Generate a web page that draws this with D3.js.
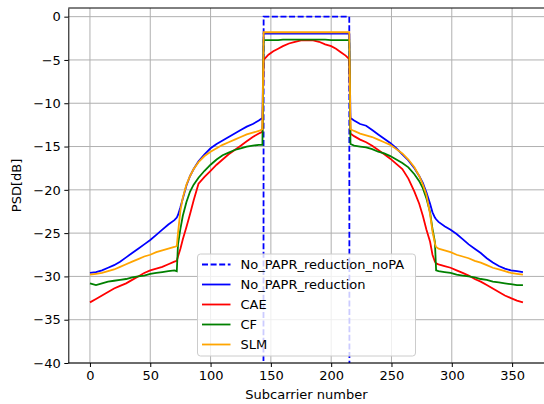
<!DOCTYPE html>
<html>
<head>
<meta charset="utf-8">
<script src="https://cdn.jsdelivr.net/npm/d3@7"></script>
<style>
  body { margin: 0; background: #fff; }
  text { font-family: "DejaVu Sans", sans-serif; }
</style>
</head>
<body>
<div id="chart"></div>
<script>
var w = 544;
var h = 404;
var margin = {left: 68.3, right: 0, top: 8, bottom: 41};
var fontSize = "13px";

// subcarrier sample points (shared by the measured curves)
var carriers = [0, 5, 10, 15, 20, 25, 30, 35, 40, 45, 50, 55, 60, 65, 70, 72, 73, 75, 77, 80, 83, 86, 90, 95,
  100, 105, 110, 115, 120, 125, 130, 135, 140, 143,
  144, 148, 152, 156, 160, 165, 170, 175, 180, 185, 190, 195, 200, 204, 208, 212, 215,
  216, 219, 224, 229, 234, 239, 244, 249, 254, 259, 264, 269, 273, 276, 279, 282, 284, 286, 287,
  289, 294, 299, 304, 309, 314, 319, 324, 329, 334, 339, 344, 349, 354, 359];

var noPAPR = [-29.6, -29.5, -29.3, -29.0, -28.7, -28.3, -27.8, -27.3, -26.8, -26.3, -25.8, -25.2, -24.6, -24.0, -23.5, -23.2, -22.9, -22.0, -21.0, -19.5, -18.4, -17.6, -16.7, -15.9,
  -15.2, -14.7, -14.3, -13.9, -13.5, -13.1, -12.7, -12.4, -12.0, -11.7,
  -1.95, -1.95, -1.95, -1.95, -1.95, -1.95, -1.95, -1.95, -1.95, -1.95, -1.95, -1.95, -1.95, -1.95, -1.95, -1.95, -1.95,
  -11.7, -12.0, -12.4, -12.6, -13.1, -13.6, -14.1, -14.6, -15.2, -15.9, -16.6, -17.5, -18.4, -19.2, -20.3, -21.6, -22.6, -23.2, -23.4,
  -23.7, -24.2, -24.6, -25.1, -25.7, -26.3, -26.8, -27.3, -27.9, -28.4, -28.8, -29.1, -29.3, -29.4, -29.5];

var cae = [-33.0, -32.6, -32.2, -31.8, -31.4, -31.1, -30.8, -30.4, -30.0, -29.6, -29.3, -29.1, -28.9, -28.6, -28.3, -28.2, -27.7, -26.8, -25.7, -24.3, -22.8, -21.2, -19.3, -18.5,
  -17.8, -17.1, -16.5, -15.9, -15.4, -14.9, -14.4, -13.9, -13.5, -13.3,
  -5.0, -4.4, -4.0, -3.7, -3.4, -3.1, -2.9, -2.75, -2.7, -2.75, -2.9, -3.2, -3.4, -3.7, -4.1, -4.5, -4.9,
  -13.5, -13.8, -14.2, -14.5, -14.9, -15.4, -15.9, -16.4, -17.0, -17.6, -18.7, -20.2, -21.6, -23.0, -24.6, -26.0, -27.5, -28.3, -28.5,
  -28.6, -28.8, -29.0, -29.3, -29.6, -29.9, -30.3, -30.6, -31.0, -31.4, -31.8, -32.2, -32.5, -32.8, -33.0];

var cf = [-30.8, -31.0, -30.8, -30.6, -30.5, -30.4, -30.3, -30.1, -30.0, -29.9, -29.7, -29.6, -29.5, -29.4, -29.3, -29.4, -26.3, -24.5, -23.0, -21.4, -20.2, -19.4, -18.6, -17.8,
  -17.1, -16.5, -16.0, -15.7, -15.4, -15.2, -15.0, -14.9, -14.8, -14.8,
  -2.7, -2.7, -2.7, -2.7, -2.65, -2.65, -2.65, -2.65, -2.65, -2.65, -2.65, -2.65, -2.7, -2.7, -2.7, -2.7, -2.7,
  -14.7, -14.9, -15.0, -15.1, -15.3, -15.6, -15.8, -16.1, -16.5, -16.9, -17.4, -18.2, -19.0, -19.8, -21.0, -22.6, -24.5, -26.0, -29.3,
  -29.4, -29.5, -29.6, -29.8, -29.9, -30.0, -30.1, -30.3, -30.4, -30.6, -30.7, -30.8, -30.9, -31.0, -31.0];

var slm = [-29.8, -29.7, -29.6, -29.4, -29.2, -28.9, -28.6, -28.3, -28.0, -27.7, -27.5, -27.2, -27.0, -26.8, -26.6, -26.5, -25.0, -22.4, -20.9, -19.4, -18.4, -17.6, -16.8, -16.1,
  -15.6, -15.2, -14.8, -14.5, -14.2, -13.9, -13.6, -13.4, -13.2, -13.0,
  -1.8, -1.8, -1.8, -1.8, -1.8, -1.8, -1.8, -1.8, -1.8, -1.8, -1.8, -1.8, -1.8, -1.8, -1.8, -1.8, -1.8,
  -13.0, -13.2, -13.5, -13.7, -13.9, -14.2, -14.5, -14.8, -15.3, -15.8, -16.5, -17.4, -18.4, -19.4, -20.6, -22.8, -24.8, -26.2, -26.6,
  -26.8, -27.0, -27.2, -27.5, -27.7, -27.9, -28.2, -28.4, -28.7, -29.0, -29.2, -29.4, -29.6, -29.7, -29.8];

// ideal PSD without PA: 0 dB in band, nothing outside
var noPACarriers = [143, 144, 215, 216];
var noPA = [-300, 0, 0, -300];

var xTicks = [0, 50, 100, 150, 200, 250, 300, 350];
var yTicks = [0, -5, -10, -15, -20, -25, -30, -35, -40];

var series = [
  {name: "No_PAPR_reduction_noPA", x: noPACarriers, y: noPA, color: "blue", dash: "6,2.6"},
  {name: "No_PAPR_reduction", x: carriers, y: noPAPR, color: "blue"},
  {name: "CAE", x: carriers, y: cae, color: "red"},
  {name: "CF", x: carriers, y: cf, color: "green"},
  {name: "SLM", x: carriers, y: slm, color: "orange"}
];

var xScale = d3.scaleLinear()
               .domain([-17.95, 376.95])
               .range([margin.left, 544.6]);

var yScale = d3.scaleLinear()
               .domain([-40, 1])
               .range([h - margin.bottom, margin.top]);

var svg = d3.select("#chart")
            .append("svg")
            .attr("width", w)
            .attr("height", h);

svg.append("clipPath")
   .attr("id", "plot-area")
   .append("rect")
   .attr("x", margin.left)
   .attr("y", margin.top)
   .attr("width", 544.6 - margin.left)
   .attr("height", h - margin.bottom - margin.top);

// grid
var grid = svg.append("g").attr("class", "grid");
grid.selectAll("line.gx")
    .data(xTicks)
    .enter()
    .append("line")
    .attr("x1", function(d) { return xScale(d); })
    .attr("x2", function(d) { return xScale(d); })
    .attr("y1", margin.top)
    .attr("y2", h - margin.bottom)
    .attr("stroke", "#b0b0b0")
    .attr("stroke-width", 1);
grid.selectAll("line.gy")
    .data(yTicks)
    .enter()
    .append("line")
    .attr("x1", margin.left)
    .attr("x2", w)
    .attr("y1", function(d) { return yScale(d); })
    .attr("y2", function(d) { return yScale(d); })
    .attr("stroke", "#b0b0b0")
    .attr("stroke-width", 1);

var line = d3.line()
             .x(function(d) { return xScale(d[0]); })
             .y(function(d) { return yScale(d[1]); });

svg.append("g")
   .attr("clip-path", "url(#plot-area)")
   .selectAll("path")
   .data(series)
   .enter()
   .append("path")
   .attr("d", function(s) { return line(d3.zip(s.x, s.y)); })
   .attr("fill", "none")
   .attr("stroke", function(s) { return s.color; })
   .attr("stroke-width", 1.8)
   .attr("stroke-dasharray", function(s) { return s.dash || null; });

// axes
var xAxis = d3.axisBottom(xScale).tickValues(xTicks).tickSize(4).tickPadding(3.5).tickSizeOuter(0);
var yAxis = d3.axisLeft(yScale).tickValues(yTicks).tickSize(4).tickPadding(3.5).tickSizeOuter(0);

var gx = svg.append("g")
   .attr("transform", "translate(0," + (h - margin.bottom) + ")")
   .call(xAxis);
gx.select(".domain").attr("d", "M" + margin.left + ",0H" + w);

var gy = svg.append("g")
   .attr("transform", "translate(" + margin.left + ",0)")
   .call(yAxis);

svg.append("line")
   .attr("x1", margin.left).attr("x2", w)
   .attr("y1", margin.top).attr("y2", margin.top)
   .attr("stroke", "#000").attr("stroke-width", 1);

svg.selectAll(".tick text")
   .attr("font-family", "DejaVu Sans")
   .attr("font-size", fontSize)
   .attr("fill", "#000");
svg.selectAll(".tick line").attr("stroke", "#000");
svg.selectAll(".domain").attr("stroke", "#000");

svg.append("text")
   .attr("x", (margin.left + 544.6) / 2)
   .attr("y", 399)
   .attr("text-anchor", "middle")
   .attr("font-size", fontSize)
   .text("Subcarrier number");

svg.append("text")
   .attr("transform", "translate(21," + ((margin.top + h - margin.bottom) / 2) + ") rotate(-90)")
   .attr("text-anchor", "middle")
   .attr("font-size", fontSize)
   .text("PSD[dB]");

// legend
var legend = svg.append("g").attr("transform", "translate(197.5,254)");
legend.append("rect")
      .attr("width", 218)
      .attr("height", 102)
      .attr("rx", 3)
      .attr("fill", "#fff")
      .attr("fill-opacity", 0.8)
      .attr("stroke", "#cccccc");

var items = legend.selectAll("g.item")
      .data(series)
      .enter()
      .append("g")
      .attr("transform", function(d, i) { return "translate(0," + (10.5 + i * 20) + ")"; });
items.append("line")
     .attr("x1", 4.5).attr("x2", 33)
     .attr("stroke", function(s) { return s.color; })
     .attr("stroke-width", 1.8)
     .attr("stroke-dasharray", function(s) { return s.dash || null; });
items.append("text")
     .attr("x", 43)
     .attr("dy", "0.35em")
     .attr("font-size", fontSize)
     .text(function(s) { return s.name; });
</script>
</body>
</html>
